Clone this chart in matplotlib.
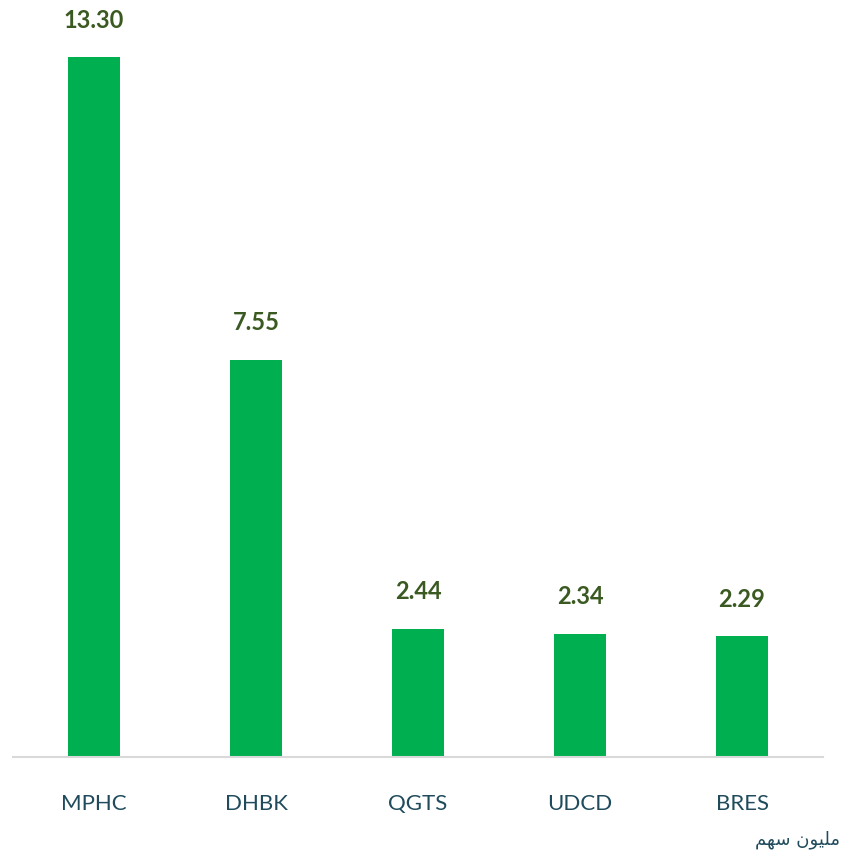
import matplotlib.pyplot as plt

# data
tickers = ['MPHC', 'DHBK', 'QGTS', 'UDCD', 'BRES']
volumes = [13.30, 7.55, 2.44, 2.34, 2.29]
unit_label = '\uFEE2\uFEEC\uFEB3 \uFEE5\uFEEE\uFEF4\uFEE0\uFEE3'  # "مليون سهم" shaped, visual order

bar_color = '#00B050'
value_color = '#3B5A22'
label_color = '#1F4B5C'

fig = plt.figure(figsize=(8.45, 8.54), dpi=100)
ax = fig.add_axes([13 / 845, 96 / 854, 810 / 845, 758 / 854])

x = range(len(tickers))
bars = ax.bar(x, volumes, width=0.32, color=bar_color)

for rect, v in zip(bars, volumes):
    ax.annotate(f'{v:.2f}', (rect.get_x() + rect.get_width() / 2, v),
                xytext=(0, 19), textcoords='offset points',
                ha='center', va='bottom', fontsize=17, fontweight='bold',
                color=value_color, family=['Lato', 'DejaVu Sans'])

ax.set_xlim(-0.5, len(tickers) - 0.5)
ax.set_ylim(0, 14.40)
ax.set_xticks(list(x))
ax.set_xticklabels(tickers, fontsize=16, color=label_color, family=['Lato', 'DejaVu Sans'])
ax.tick_params(axis='x', length=0, pad=26)
ax.set_yticks([])

for side in ['top', 'right', 'left']:
    ax.spines[side].set_visible(False)
ax.spines['bottom'].set_color('#D9D9D9')
ax.spines['bottom'].set_linewidth(1.5)

fig.text(840 / 845, 1 - 840 / 854, unit_label, ha='right', va='center',
         fontsize=13, color=label_color, family='DejaVu Sans')

fig.savefig('out.png', dpi=100)
